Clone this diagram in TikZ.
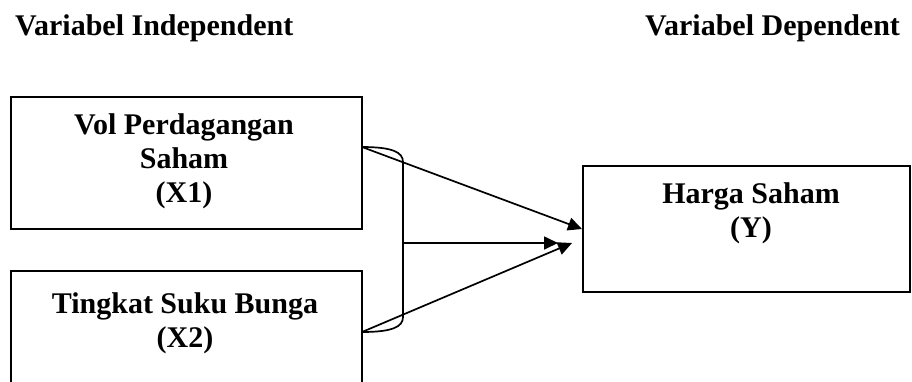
\documentclass[tikz,border=0pt]{standalone}
\usepackage{fontspec}
\setmainfont{Liberation Serif}
\usetikzlibrary{arrows.meta}
\begin{document}
\begin{tikzpicture}[x=1pt,y=-1pt,
  box/.style={draw,line width=1.7pt,rectangle,inner sep=0pt},
  lbl/.style={anchor=base,inner sep=0pt,font=\fontsize{30}{34}\selectfont\bfseries},
  con/.style={line width=1.7pt},
  arr/.style={line width=1.7pt,-{Triangle[length=14pt,width=13pt]}}]
\clip (0,0) rectangle (912,381);
\fill[white] (0,0) rectangle (912,381);
% headers
\node[lbl,anchor=base west] (hi) at (15,35) {Variabel Independent};
\node[lbl,anchor=base west] (hd) at (645,35) {Variabel Dependent};
% boxes
\node[box,minimum width=351pt,minimum height=132pt] (x1) at (186.5,163) {};
\node[box,minimum width=351pt,minimum height=130pt] (x2) at (186.5,336) {};
\node[box,minimum width=327pt,minimum height=126pt] (y) at (746.5,229) {};
% texts
\node[lbl] (t1a) at (184,134) {Vol Perdagangan};
\node[lbl] (t1b) at (184,168) {Saham};
\node[lbl] (t1c) at (184,202) {(X1)};
\node[lbl] (t2a) at (185,313) {Tingkat Suku Bunga};
\node[lbl] (t2b) at (185,347) {(X2)};
\node[lbl] (tya) at (751,203) {Harga Saham};
\node[lbl] (tyb) at (751,237) {(Y)};
% bracket
\coordinate (a1) at (362,147);
\coordinate (b1) at (403,162);
\coordinate (b2) at (403,317);
\coordinate (a2) at (362,332);
\coordinate (m) at (403,243);
\coordinate (e1) at (582,229);
\coordinate (e2) at (558,243);
\coordinate (e3) at (572,243);
\draw[con] (a1) .. controls (392,147) and (403,152) .. (b1) -- (b2)
  .. controls (403,327) and (392,332) .. (a2);
\draw[arr] (a1) -- (e1);
\draw[arr] (m) -- (e2);
\draw[arr] (a2) -- (e3);
\end{tikzpicture}
\end{document}
